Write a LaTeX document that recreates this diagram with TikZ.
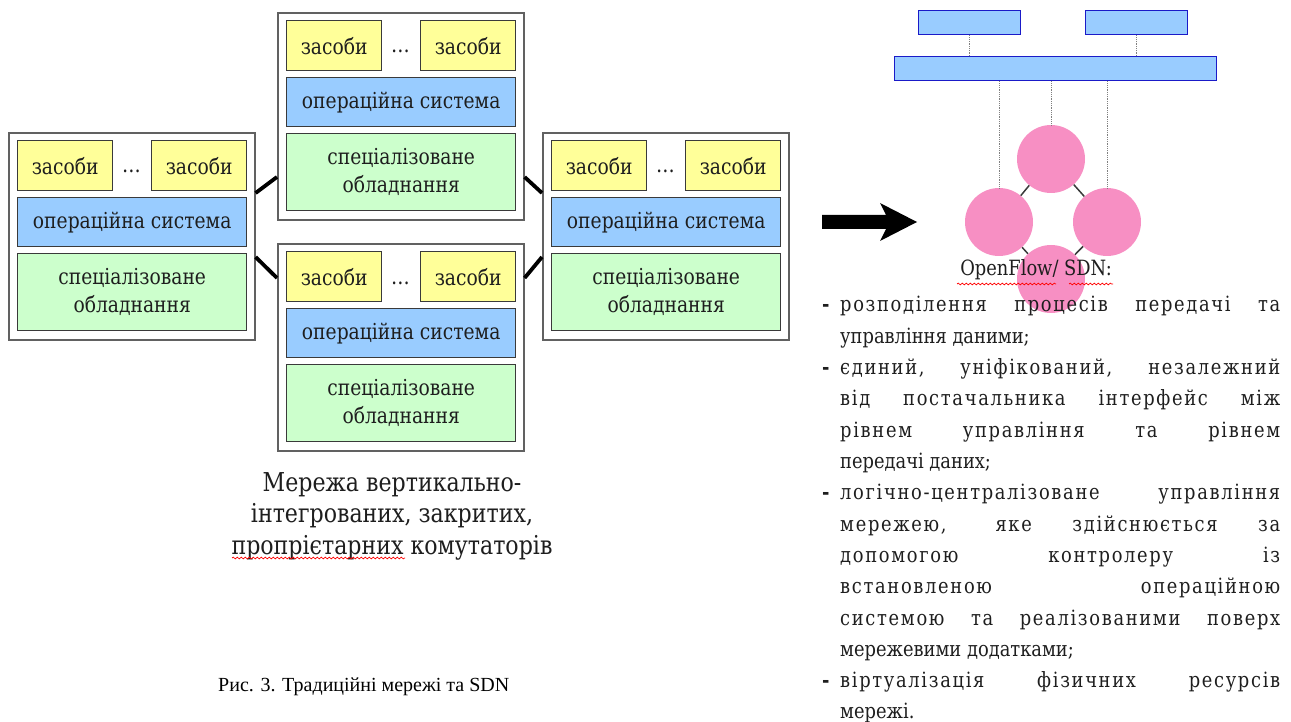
\documentclass[tikz,border=0pt]{standalone}
\usepackage{fontspec}
\setmainfont{Liberation Serif}
\newfontfamily\cam{DejaVu Serif}[FakeStretch=0.85]
\newfontfamily\camls{DejaVu Serif}[FakeStretch=0.85, LetterSpace=8]
\usetikzlibrary{calc,decorations.pathmorphing}
\definecolor{yel}{HTML}{FFFF99}
\definecolor{blu}{HTML}{99CCFF}
\definecolor{grn}{HTML}{CCFFCC}
\definecolor{pnk}{HTML}{F78FC3}
\definecolor{bdr}{HTML}{3A3A3A}
\definecolor{txt}{HTML}{1E1E1E}
\definecolor{appbdr}{HTML}{1A1AC8}
\tikzset{
  outerbox/.style={draw=bdr!80, line width=1.6pt, fill=white, minimum width=246pt, minimum height=207pt, inner sep=0pt},
  boxfont/.style={font=\cam\fontsize{22}{28}\selectfont, text=txt},
  ybox/.style={draw=bdr, line width=1.4pt, fill=yel, minimum width=95pt, minimum height=50pt, inner sep=0pt, boxfont},
  bbox/.style={draw=bdr, line width=1.4pt, fill=blu, minimum width=229pt, minimum height=49pt, inner sep=0pt, boxfont},
  gbox/.style={draw=bdr, line width=1.4pt, fill=grn, minimum width=229pt, minimum height=77pt, inner sep=0pt, align=center, boxfont},
  link/.style={line width=3.8pt, black},
  appbox/.style={draw=appbdr, line width=1.4pt, fill=blu, inner sep=0pt},
  sw/.style={circle, fill=pnk, minimum size=68pt, inner sep=0pt},
  swlink/.style={line width=1.5pt, bdr},
  dots/.style={densely dotted, gray, line width=0.8pt},
  listtext/.style={inner sep=0pt, text=txt, font=\cam\fontsize{21}{26}\selectfont},
  jtext/.style={inner sep=0pt, text=txt, font=\camls\fontsize{21}{26}\selectfont},
  wavy/.style={red, line width=0.7pt, decorate, decoration={snake, amplitude=0.9pt, segment length=4pt}}
}
\newcommand\swbox[3]{%
  \node[outerbox, anchor=north west] (#1) at (#2,#3) {};
  \node[ybox, anchor=north west] (#1a) at ($(#1.north west)+(9,8)$) {засоби};
  \node[ybox, anchor=north west] (#1b) at ($(#1.north west)+(143,8)$) {засоби};
  \node[boxfont, inner sep=0pt, anchor=base] (#1d) at ($(#1.north west)+(123.5,41)$) {\dots};
  \node[bbox, anchor=north west] (#1o) at ($(#1.north west)+(9,65)$) {операційна система};
  \node[gbox, anchor=north west] (#1h) at ($(#1.north west)+(9,121)$) {спеціалізоване\\обладнання};
}
\newcommand\jline[2]{\node[jtext, anchor=base west] (l#1) at (840,{312+31.3*(#1-1)}) {\makebox[440pt][s]{#2}};}
\newcommand\lline[2]{\node[listtext, anchor=base west] (l#1) at (840,{312+31.3*(#1-1)}) {#2};}
\newcommand\bline[1]{\node[listtext, anchor=base west] (bu#1) at (822,{312+31.3*(#1-1)}) {\textbf{-}};}
\begin{document}
\begin{tikzpicture}[x=1pt,y=-1pt]
\useasboundingbox (0,0) rectangle (1291,722);
% traditional switches
\swbox{L}{8}{132}
\swbox{T}{277}{12}
\swbox{B}{277}{243}
\swbox{R}{542}{132}
\draw[link] ($(L.north east)+(0,61)$) -- ($(T.north west)+(0,165)$);
\draw[link] ($(L.north east)+(0,125)$) -- ($(B.north west)+(0,35)$);
\draw[link] ($(T.north east)+(0,165)$) -- ($(R.north west)+(0,61)$);
\draw[link] ($(B.north east)+(0,35)$) -- ($(R.north west)+(0,125)$);
\node[align=center, inner sep=0pt, text=txt, font=\cam\fontsize{26}{31.5}\selectfont] (cap1) at (392,516)
  {Мережа вертикально-\\інтегрованих, закритих,\\пропрієтарних комутаторів};
\node[inner sep=0pt, anchor=west, font=\fontsize{20}{24}\selectfont] (cap2) at (218,687) {Рис. 3. Традиційні мережі та SDN};
% arrow
\fill[black] (822,215) -- (886,215) -- (880,203) -- (917,222) -- (880,241) -- (886,229) -- (822,229) -- cycle;
% SDN
\node[appbox, minimum width=102pt, minimum height=24pt, anchor=north west] (app1) at (918,10) {};
\node[appbox, minimum width=102pt, minimum height=24pt, anchor=north west] (app2) at (1085,10) {};
\node[appbox, minimum width=322pt, minimum height=24pt, anchor=north west] (ctrl) at (894,56) {};
\node[sw] (c1) at (1051,159) {};
\node[sw] (c2) at (999,222) {};
\node[sw] (c3) at (1107,222) {};
\node[sw] (c4) at (1051,279) {};
\draw[swlink] (c1) -- (c2);
\draw[swlink] (c1) -- (c3);
\draw[swlink] (c2) -- (c4);
\draw[swlink] (c3) -- (c4);
\draw[dots] (app1.south) -- (app1.south |- ctrl.north);
\draw[dots] (app2.south) -- (app2.south |- ctrl.north);
\draw[dots] (c2.north |- ctrl.south) -- (c2.north);
\draw[dots] (c1.north |- ctrl.south) -- (c1.north);
\draw[dots] (c3.north |- ctrl.south) -- (c3.north);
\node[listtext] (of) at (1036,270) {OpenFlow/ SDN:};
\draw[wavy] (957,284) -- (1056,284);
\draw[wavy] (1069,284) -- (1113,284);
\draw[wavy] (232,558) -- (405,558);
% list
\bline{1}\bline{3}\bline{7}\bline{13}
\jline{1}{розподілення процесів передачі та}
\lline{2}{управління даними;}
\jline{3}{єдиний, уніфікований, незалежний}
\jline{4}{від постачальника інтерфейс між}
\jline{5}{рівнем управління та рівнем}
\lline{6}{передачі даних;}
\jline{7}{логічно-централізоване управління}
\jline{8}{мережею, яке здійснюється за}
\jline{9}{допомогою контролеру із}
\jline{10}{встановленою операційною}
\jline{11}{системою та реалізованими поверх}
\lline{12}{мережевими додатками;}
\jline{13}{віртуалізація фізичних ресурсів}
\lline{14}{мережі.}
\end{tikzpicture}
\end{document}
